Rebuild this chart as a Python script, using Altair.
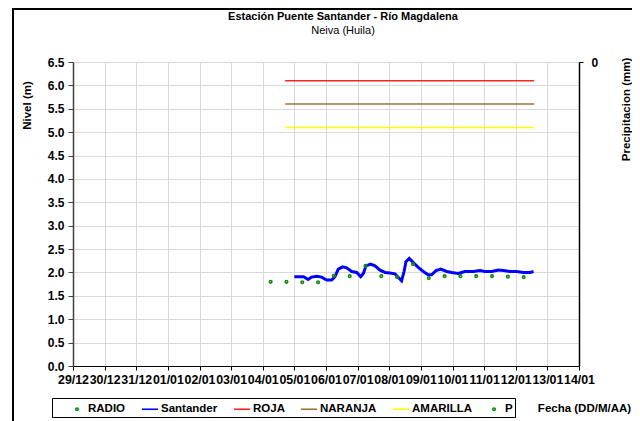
import altair as alt
import pandas as pd

# ---------------- data ----------------
TITULO = "Estación Puente Santander - Río Magdalena"
SUBTITULO = "Neiva (Huila)"
SERIES = ["RADIO", "Santander", "ROJA", "NARANJA", "AMARILLA", "P"]
COLORS = ["#168a16", "#0000ff", "#ff2424", "#a56f3c", "#ffff00", "#168a16"]
DOT = "M-0.16,0A0.16,0.16 0 1,0 0.16,0A0.16,0.16 0 1,0 -0.16,0Z"
SHAPES = [DOT, "stroke", "stroke", "stroke", "stroke", DOT]

X_TICKS = ["2013-12-29", "2013-12-30", "2013-12-31", "2014-01-01", "2014-01-02",
           "2014-01-03", "2014-01-04", "2014-01-05", "2014-01-06", "2014-01-07",
           "2014-01-08", "2014-01-09", "2014-01-10", "2014-01-11", "2014-01-12",
           "2014-01-13", "2014-01-14"]
Y_TICKS = [0.0, 0.5, 1.0, 1.5, 2.0, 2.5, 3.0, 3.5, 4.0, 4.5, 5.0, 5.5, 6.0, 6.5]

RADIO_FECHAS = ["2014-01-04T06:00", "2014-01-04T18:00", "2014-01-05T06:00", "2014-01-05T18:00",
                "2014-01-06T06:00", "2014-01-06T18:00", "2014-01-07T06:00", "2014-01-07T18:00",
                "2014-01-08T06:00", "2014-01-08T18:00", "2014-01-09T06:00", "2014-01-09T18:00",
                "2014-01-10T06:00", "2014-01-10T18:00", "2014-01-11T06:00", "2014-01-11T18:00",
                "2014-01-12T06:00"]
RADIO_NIVEL = [1.80, 1.80, 1.79, 1.79, 1.93, 1.92, 2.14, 1.92, 1.90, 2.18, 1.88, 1.92,
               1.92, 1.92, 1.92, 1.91, 1.90]

SANTANDER_FECHAS = ["2014-01-05T00:00", "2014-01-05T07:00", "2014-01-05T10:30", "2014-01-05T13:00",
                    "2014-01-05T17:00", "2014-01-05T20:40", "2014-01-06T00:30", "2014-01-06T04:20",
                    "2014-01-06T06:45", "2014-01-06T09:20", "2014-01-06T12:40", "2014-01-06T15:40",
                    "2014-01-06T19:30", "2014-01-06T23:20", "2014-01-07T02:20", "2014-01-07T04:20",
                    "2014-01-07T06:20", "2014-01-07T09:50", "2014-01-07T13:10", "2014-01-07T17:00",
                    "2014-01-07T20:50", "2014-01-08T00:30", "2014-01-08T04:20", "2014-01-08T07:20",
                    "2014-01-08T09:20", "2014-01-08T11:15", "2014-01-08T12:40", "2014-01-08T15:10",
                    "2014-01-08T18:15", "2014-01-08T22:00", "2014-01-09T01:50", "2014-01-09T05:30",
                    "2014-01-09T08:10", "2014-01-09T11:30", "2014-01-09T15:00", "2014-01-09T19:40",
                    "2014-01-09T23:20", "2014-01-10T04:20", "2014-01-10T09:30", "2014-01-10T15:50",
                    "2014-01-10T20:50", "2014-01-11T00:40", "2014-01-11T05:50", "2014-01-11T10:50",
                    "2014-01-11T14:40", "2014-01-11T19:40", "2014-01-12T00:40", "2014-01-12T05:50",
                    "2014-01-12T10:50", "2014-01-12T13:30"]
SANTANDER_NIVEL = [1.91, 1.91, 1.85, 1.90, 1.92, 1.90, 1.84, 1.84, 1.91, 2.07,
                   2.12, 2.10, 2.02, 2.00, 1.91, 1.98, 2.14, 2.18, 2.14, 2.05,
                   2.00, 1.99, 1.97, 1.88, 1.82, 2.02, 2.23, 2.30, 2.21, 2.11,
                   2.02, 1.95, 1.95, 2.04, 2.07, 2.02, 2.00, 1.98, 2.02, 2.02,
                   2.04, 2.02, 2.02, 2.05, 2.04, 2.02, 2.02, 2.00, 2.00, 2.02]

UMBRAL_FECHAS = ["2014-01-04T17:00", "2014-01-12T14:00"]
UMBRALES = {"ROJA": 6.1, "NARANJA": 5.6, "AMARILLA": 5.1}

P_FECHAS = []
P_VALORES = []

# ---------------- tables ----------------
radio_df = pd.DataFrame({"fecha": RADIO_FECHAS, "nivel": RADIO_NIVEL, "serie": "RADIO"})
sant_df = pd.DataFrame({"fecha": SANTANDER_FECHAS, "nivel": SANTANDER_NIVEL, "serie": "Santander"})
umb_rows = []
for name, val in UMBRALES.items():
    for f in UMBRAL_FECHAS:
        umb_rows.append({"fecha": f, "nivel": val, "serie": name})
umb_df = pd.DataFrame(umb_rows)
p_values = [{"fecha": f, "p": v, "serie": "P"} for f, v in zip(P_FECHAS, P_VALORES)]


def dt(s):
    y, m, d = s.split("-")
    return alt.DateTime(year=int(y), month=int(m), date=int(d))


FONT = "Liberation Sans"

x_axis = alt.Axis(
    values=[dt(s) for s in X_TICKS], format="%d/%m", labelOverlap=False, labelFlush=False,
    labelFontSize=12.4, labelPadding=3, tickSize=4, tickColor="black",
    domainColor="black", title="Fecha (DD/M/AA)", titleX=511, titleY=42,
    titleAlign="center", titleBaseline="middle", titleFontSize=11.5,
)
x_scale = alt.Scale(domain=[dt(X_TICKS[0]), dt(X_TICKS[-1])])


def x_enc():
    return alt.X("fecha:T", scale=x_scale, axis=x_axis)


y_axis = alt.Axis(
    values=Y_TICKS, format=".1f", title="Nivel (m)", labelFontSize=12,
    tickSize=5, tickColor="#404040", domainColor="#404040", domainWidth=1.5,
    titleAngle=270, titleX=-46, titleY=43, titleAlign="center",
    titleBaseline="middle", titleFontSize=11.5, labelPadding=4,
)
y_scale = alt.Scale(domain=[0, 6.5], nice=False)


def y_enc():
    return alt.Y("nivel:Q", scale=y_scale, axis=y_axis)


legend = alt.Legend(
    orient="none", legendX=-21, legendY=336, direction="horizontal",
    title=" ", titleOrient="left", titlePadding=14,
)
color_enc = alt.Color("serie:N", scale=alt.Scale(domain=SERIES, range=COLORS), legend=legend)
shape_enc = alt.Shape("serie:N", scale=alt.Scale(domain=SERIES, range=SHAPES), legend=legend)

# chart frame (decoration) and titles
one = alt.Data(values=[{}])
frame_top = alt.Chart(one).mark_rule(color="black", strokeWidth=2).encode(
    x=alt.value(-61), x2=alt.value(640), y=alt.value(-53)
)
frame_left = alt.Chart(one).mark_rule(color="black", strokeWidth=2).encode(
    x=alt.value(-60), y=alt.value(-54), y2=alt.value(440)
)
titulo = alt.Chart(one).mark_text(
    font=FONT, fontSize=11, fontWeight="bold", color="black", baseline="middle"
).encode(x=alt.value(270), y=alt.value(-45), text=alt.value(TITULO))
subtitulo = alt.Chart(one).mark_text(
    font=FONT, fontSize=11, color="black", baseline="middle"
).encode(x=alt.value(270), y=alt.value(-31), text=alt.value(SUBTITULO))

umbrales = alt.Chart(umb_df).mark_line(strokeWidth=1.5).encode(
    x=x_enc(), y=y_enc(), color=color_enc, detail="serie:N"
)
santander = alt.Chart(sant_df).mark_line(strokeWidth=3).encode(
    x=x_enc(), y=y_enc(), color=color_enc
)
radio = alt.Chart(radio_df).mark_point(filled=False, opacity=1, size=260, strokeWidth=1.6).encode(
    x=x_enc(), y=y_enc(), color=color_enc, shape=shape_enc
)
precip = alt.Chart(alt.Data(values=p_values)).mark_point(filled=False).encode(
    x=x_enc(),
    y=alt.Y(
        "p:Q",
        scale=alt.Scale(domain=[0, 1], reverse=True, nice=False),
        axis=alt.Axis(
            orient="right", values=[0], format="d", grid=False, title="Precipitacion (mm)",
            labelFontSize=12, tickSize=4, tickColor="black", domainColor="black",
            domainWidth=1.5, titleAngle=270, titleX=47, titleY=47, titleAlign="center",
            titleBaseline="middle", titleFontSize=11.5, labelPadding=8,
        ),
    ),
)

main = alt.layer(umbrales, santander, radio)
chart = alt.layer(
    frame_top, frame_left, titulo, subtitulo, main, precip
).resolve_scale(y="independent").properties(
    width=506, height=304,
    autosize=alt.AutoSizeParams(type="none"),
    padding={"left": 65, "top": 54, "right": 53, "bottom": 55},
).configure(font=FONT).configure_axis(
    labelFont=FONT, labelFontWeight="bold", labelColor="black", titleFont=FONT,
    titleFontWeight="bold", titleColor="black", gridColor="#d9d9d9", gridWidth=1,
).configure_legend(
    labelFont=FONT, labelFontWeight="bold", labelFontSize=11.5, labelColor="black",
    strokeColor="black", padding=2, columnPadding=12, labelOffset=2,
    titleFont=FONT, titleFontSize=11.5, symbolSize=260, symbolStrokeWidth=1.6,
).configure_view(strokeWidth=0)

chart.save("out.html", embed_options={"renderer": "svg", "actions": False})
